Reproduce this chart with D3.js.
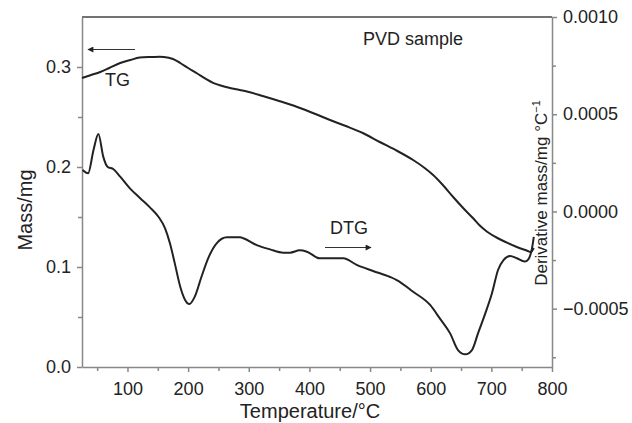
<!DOCTYPE html>
<html lang="en">
<head>
    <meta charset="UTF-8">
    <title>PVD sample TG / DTG</title>
    <script src="https://cdnjs.cloudflare.com/ajax/libs/d3/7.8.5/d3.min.js"></script>
    <style>
        body {
            margin: 0;
            padding: 0;
            background-color: #ffffff;
        }
        svg text {
            font-family: "Liberation Sans", Arial, sans-serif;
            fill: #222;
        }
        .axis path, .axis line {
            stroke: #888;
            stroke-width: 1.5;
        }
        .axis text {
            font-size: 18px;
            fill: #222;
        }
    </style>
</head>
<body>
    <div id="chart"></div>

    <script>
        // TG curve (left axis, mg)
        const tgTemp = [25, 40, 55, 70, 88, 105, 120, 140, 160, 175, 187, 200, 215, 230, 241, 255, 264, 285, 300, 323,
            350, 380, 410, 434, 460, 488, 516, 545, 571, 590, 604, 620, 637, 655, 670, 680, 693, 710, 726, 742, 759, 765, 770];
        const tgMass = [0.289, 0.292, 0.295, 0.299, 0.304, 0.307, 0.3095, 0.310, 0.310, 0.308, 0.304, 0.299, 0.2935, 0.2878,
            0.2842, 0.2812, 0.2797, 0.277, 0.275, 0.271, 0.266, 0.260, 0.253, 0.247, 0.241, 0.234, 0.225, 0.216, 0.207,
            0.199, 0.192, 0.182, 0.170, 0.158, 0.1487, 0.142, 0.1353, 0.129, 0.1243, 0.120, 0.1163, 0.115, 0.119];

        // DTG curve (right axis, mg/°C)
        const dtgTemp = [26, 35, 44, 52, 60, 67, 77, 88, 104, 121, 137, 151, 162, 170, 178, 187, 195, 202, 211, 222,
            233, 247, 264, 286, 291, 313, 335, 357, 368, 384, 396, 417, 456, 478, 505, 533, 544, 571, 599, 615, 632,
            645, 657, 668, 678, 690, 701, 711, 720, 731, 742, 755, 761, 767, 770];
        const dtgRate = [0.000213, 0.000196, 0.000316, 0.000398, 0.000282, 0.00023, 0.000217, 0.000179, 0.000119, 0.000068,
            0.000021, -0.000027, -0.000087, -0.000164, -0.000267, -0.000387, -0.000455, -0.000476, -0.000438, -0.000336,
            -0.000241, -0.000164, -0.000133, -0.000133, -0.000138, -0.000173, -0.000195, -0.000212, -0.000212, -0.0002,
            -0.000207, -0.000241, -0.000241, -0.000275, -0.000306, -0.000337, -0.000353, -0.000413, -0.000481, -0.00055,
            -0.000627, -0.000713, -0.000735, -0.000713, -0.000627, -0.000524, -0.000421, -0.000301, -0.00025, -0.000229,
            -0.000241, -0.000258, -0.000246, -0.00019, -0.000131];

        const tempTicks = [100, 200, 300, 400, 500, 600, 700, 800];
        const tempMinor = [50, 150, 250, 350, 450, 550, 650, 750];
        const massTicks = [0.0, 0.1, 0.2, 0.3];
        const massMinor = [0.05, 0.15, 0.25];
        const dtgTicks = [-0.0005, 0.0, 0.0005, 0.0010];
        const dtgMinor = [-0.00075, -0.00025, 0.00025, 0.00075];

        const width = 632, height = 423;
        const margin = {top: 17, right: 80, bottom: 56, left: 82};
        const innerW = width - margin.left - margin.right;
        const innerH = height - margin.top - margin.bottom;

        const svg = d3.select("#chart").append("svg")
            .attr("width", width)
            .attr("height", height);

        const g = svg.append("g")
            .attr("transform", `translate(${margin.left},${margin.top})`);

        const x = d3.scaleLinear().domain([25, 800]).range([0, innerW]);
        const yL = d3.scaleLinear().domain([0, 0.35]).range([innerH, 0]);
        const yR = d3.scaleLinear().domain([-0.0008, 0.0010]).range([innerH, 0]);

        // top frame line
        g.append("line")
            .attr("x1", 0).attr("x2", innerW)
            .attr("y1", 0).attr("y2", 0)
            .attr("stroke", "#444").attr("stroke-width", 1.5);

        // minor ticks first (no labels)
        g.append("g").attr("class", "axis")
            .attr("transform", `translate(0,${innerH})`)
            .call(d3.axisBottom(x).tickValues(tempMinor).tickSize(4).tickFormat(""))
            .select(".domain").remove();
        g.append("g").attr("class", "axis")
            .call(d3.axisLeft(yL).tickValues(massMinor).tickSize(4).tickFormat(""))
            .select(".domain").remove();
        g.append("g").attr("class", "axis")
            .attr("transform", `translate(${innerW},0)`)
            .call(d3.axisRight(yR).tickValues(dtgMinor).tickSize(4).tickFormat(""))
            .select(".domain").remove();

        g.append("g").attr("class", "axis")
            .attr("transform", `translate(0,${innerH})`)
            .call(d3.axisBottom(x).tickValues(tempTicks).tickSize(5).tickSizeOuter(0).tickPadding(10));

        g.append("g").attr("class", "axis")
            .call(d3.axisLeft(yL).tickValues(massTicks).tickSize(5).tickSizeOuter(0)
                .tickFormat(d3.format(".1f")).tickPadding(6));

        g.append("g").attr("class", "axis")
            .attr("transform", `translate(${innerW},0)`)
            .call(d3.axisRight(yR).tickValues(dtgTicks).tickSize(5).tickSizeOuter(0)
                .tickFormat(d3.format(".4f")).tickPadding(6));

        // curves
        const tgLine = d3.line()
            .x((d, i) => x(tgTemp[i]))
            .y(d => yL(d))
            .curve(d3.curveCatmullRom.alpha(0.5));

        const dtgLine = d3.line()
            .x((d, i) => x(dtgTemp[i]))
            .y(d => yR(d))
            .curve(d3.curveMonotoneX);

        g.append("path")
            .datum(tgMass)
            .attr("fill", "none")
            .attr("stroke", "#222")
            .attr("stroke-width", 2)
            .attr("d", tgLine);

        g.append("path")
            .datum(dtgRate)
            .attr("fill", "none")
            .attr("stroke", "#222")
            .attr("stroke-width", 2)
            .attr("d", dtgLine);

        // arrows pointing to each curve's axis
        svg.append("defs").append("marker")
            .attr("id", "head")
            .attr("viewBox", "0 0 10 10")
            .attr("refX", 9).attr("refY", 5)
            .attr("markerWidth", 8).attr("markerHeight", 6)
            .attr("markerUnits", "userSpaceOnUse")
            .attr("orient", "auto")
            .append("path")
            .attr("d", "M0,0 L10,5 L0,10 z")
            .attr("fill", "#222");

        svg.append("line")
            .attr("x1", 135).attr("y1", 49.5)
            .attr("x2", 88).attr("y2", 49.5)
            .attr("stroke", "#333").attr("stroke-width", 1.2)
            .attr("marker-end", "url(#head)");

        svg.append("line")
            .attr("x1", 325).attr("y1", 247.5)
            .attr("x2", 371).attr("y2", 247.5)
            .attr("stroke", "#333").attr("stroke-width", 1.2)
            .attr("marker-end", "url(#head)");

        svg.append("text").attr("x", 105).attr("y", 86)
            .style("font-size", "18px").text("TG");
        svg.append("text").attr("x", 330).attr("y", 234)
            .style("font-size", "18px").text("DTG");
        svg.append("text").attr("x", 363).attr("y", 45)
            .style("font-size", "18px").text("PVD sample");

        // axis titles
        svg.append("text")
            .attr("x", margin.left + innerW / 2 - 7)
            .attr("y", 418)
            .attr("text-anchor", "middle")
            .style("font-size", "20px")
            .text("Temperature/°C");

        svg.append("text")
            .attr("transform", "translate(32,210) rotate(-90)")
            .attr("text-anchor", "middle")
            .style("font-size", "20px")
            .text("Mass/mg");

        const rt = svg.append("text")
            .attr("transform", "translate(547,193) rotate(-90)")
            .attr("text-anchor", "middle")
            .style("font-size", "17px");
        rt.append("tspan").text("Derivative mass/mg °C");
        rt.append("tspan").attr("dy", -7).style("font-size", "11px").text("−1");
    </script>
</body>
</html>
